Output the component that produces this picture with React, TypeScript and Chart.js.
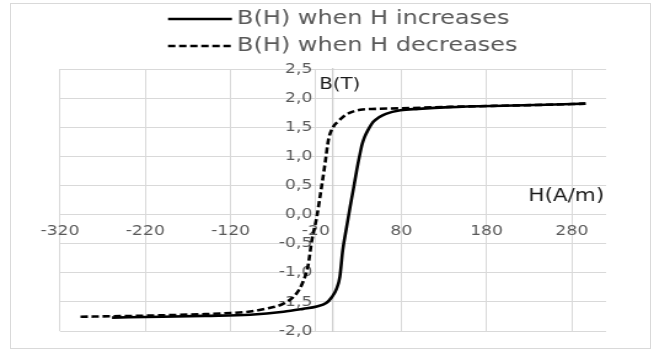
import React, { useEffect, useRef } from "react";
import { Chart, registerables } from "chart.js";

Chart.register(...registerables);

// ---- data ----
const incH = [-259, -200, -150, -97, -58, -35, -19, -8, -1.5, 4, 8, 11.4, 16, 20, 24, 28, 31, 34, 37, 41, 47, 54, 62, 79, 100, 137, 200, 250, 296];
const incB = [-1.77, -1.755, -1.74, -1.72, -1.67, -1.62, -1.58, -1.52, -1.42, -1.28, -1.07, -0.61, -0.21, 0.13, 0.45, 0.78, 1.0, 1.2, 1.33, 1.45, 1.59, 1.67, 1.73, 1.79, 1.815, 1.845, 1.87, 1.885, 1.905];
const decH = [-296, -250, -200, -150, -120, -97, -77, -58, -43, -35, -29, -25, -19, -14, -9.3, -5.4, 0.5, 6, 12, 20, 32, 50, 79, 137, 200, 250, 296];
const decB = [-1.755, -1.745, -1.73, -1.71, -1.69, -1.665, -1.61, -1.53, -1.36, -1.15, -0.86, -0.46, -0.04, 0.42, 0.88, 1.28, 1.51, 1.6, 1.68, 1.75, 1.8, 1.815, 1.825, 1.85, 1.87, 1.885, 1.905];
const seriesLabels = ["B(H) when H increases", "B(H) when H decreases"];
const xTicks = [-320, -220, -120, -20, 80, 180, 280];
const xMin = -320;
const xMax = 320;
const yMin = -2.0;
const yMax = 2.5;
const yStep = 0.5;
const xTitle = "H(A/m)";
const yTitle = "B(T)";

const W = 532;
const H = 350;
const SX = 654 / W;
const FONT = "'DejaVu Sans', sans-serif";

const overlayPlugin = {
  id: "overlay",
  afterDraw(chart: any) {
    const ctx = chart.ctx;
    const xs = chart.scales.x;
    const ys = chart.scales.y;
    ctx.save();
    // legend
    const rows = [19, 46];
    chart.data.datasets.forEach((ds: any, i: number) => {
      const y = rows[i];
      ctx.beginPath();
      ctx.setLineDash(ds.borderDash || []);
      ctx.lineWidth = 2.5;
      ctx.strokeStyle = "#000";
      ctx.moveTo(136.7, y);
      ctx.lineTo(188.7, y);
      ctx.stroke();
      ctx.setLineDash([]);
      ctx.fillStyle = "#595959";
      ctx.font = `19.5px ${FONT}`;
      ctx.textAlign = "left";
      ctx.textBaseline = "middle";
      ctx.fillText(ds.label, 192.8, y);
    });
    // axis titles
    ctx.fillStyle = "#1a1a1a";
    ctx.font = `16px ${FONT}`;
    ctx.textAlign = "left";
    ctx.textBaseline = "middle";
    ctx.fillText(yTitle, xs.getPixelForValue(0) - 11.2, ys.getPixelForValue(yMax) + 16);
    ctx.font = `17.5px ${FONT}`;
    ctx.textAlign = "right";
    ctx.fillText(xTitle, chart.chartArea.right - 1.5, ys.getPixelForValue(0) - 18);
    ctx.restore();
  },
};

export default function App() {
  const ref = useRef<HTMLCanvasElement>(null);
  useEffect(() => {
    if (!ref.current) return;
    Chart.defaults.font.family = FONT;
    const chart = new Chart(ref.current, {
      type: "scatter",
      data: {
        datasets: [
          {
            label: seriesLabels[0],
            data: incH.map((x, i) => ({ x, y: incB[i] })),
            borderColor: "#000",
            backgroundColor: "#000",
            borderWidth: 2.6,
            showLine: true,
            pointRadius: 0,
            cubicInterpolationMode: "monotone",
          },
          {
            label: seriesLabels[1],
            data: decH.map((x, i) => ({ x, y: decB[i] })),
            borderColor: "#000",
            backgroundColor: "#000",
            borderWidth: 2.6,
            borderDash: [6, 3],
            showLine: true,
            pointRadius: 0,
            cubicInterpolationMode: "monotone",
          },
        ],
      },
      options: {
        responsive: false,
        devicePixelRatio: 1,
        animation: false,
        layout: { padding: { left: 48.8, right: W - 606 / SX, top: 69, bottom: H - 331 } },
        plugins: { legend: { display: false }, tooltip: { enabled: false } },
        scales: {
          x: {
            type: "linear",
            position: { y: 0 } as any,
            min: xMin,
            max: xMax,
            afterBuildTicks: (scale: any) => {
              scale.ticks = xTicks.map((v) => ({ value: v }));
            },
            grid: { color: "#d9d9d9", lineWidth: 1, drawTicks: false },
            border: { color: "#d9d9d9", width: 1 },
            ticks: {
              color: "#595959",
              font: { size: 14, family: FONT },
              padding: 8,
              maxRotation: 0,
              autoSkip: false,
              callback: (v: any) => String(v),
            },
          },
          y: {
            type: "linear",
            position: { x: 0 } as any,
            min: yMin,
            max: yMax,
            grid: { color: "#d9d9d9", lineWidth: 1, drawTicks: false },
            border: { color: "#cfcfcf", width: 1.3 },
            ticks: {
              stepSize: yStep,
              color: "#595959",
              font: { size: 14, family: FONT },
              padding: 0,
              callback: (v: any) => Number(v).toFixed(1).replace(".", ",") + "\u2002\u2002\u2009",
            },
          },
        },
      },
      plugins: [overlayPlugin],
    });
    return () => chart.destroy();
  }, []);

  return (
    <div style={{ position: "absolute", left: 0, top: 0, width: 654, height: 350, overflow: "hidden", background: "#fff" }}>
      <canvas
        ref={ref}
        width={W}
        height={H}
        style={{ display: "block", width: W + "px", height: H + "px", transform: `scaleX(${SX})`, transformOrigin: "0 0" }}
      />
      <div
        style={{
          position: "absolute",
          left: 9.5,
          top: 3,
          width: 641,
          height: 346,
          border: "1px solid #d9d9d9",
          boxSizing: "border-box",
          pointerEvents: "none",
        }}
      />
    </div>
  );
}
